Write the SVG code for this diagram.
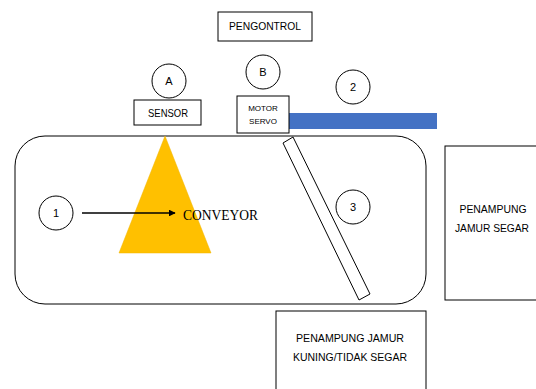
<svg xmlns="http://www.w3.org/2000/svg" width="536" height="389" viewBox="0 0 536 389">
<style>
.box{fill:#fff;stroke:#000;stroke-width:1}
.c{fill:#fff;stroke:#000;stroke-width:1}
.t{font-family:"Liberation Sans","Open Sans",sans-serif;font-size:11px;fill:#000;text-anchor:middle}
.s{font-family:"Liberation Sans","Open Sans",sans-serif;font-size:8px;fill:#000;text-anchor:middle}
.n{font-family:"Liberation Sans","Open Sans",sans-serif;font-size:11px;fill:#000;text-anchor:middle}
</style>
<defs>
<marker id="ah" viewBox="0 0 10 10" refX="9" refY="5" markerWidth="4.5" markerHeight="4.5" orient="auto" markerUnits="strokeWidth"><path d="M0,0 L10,5 L0,10 z" fill="#000"/></marker>
</defs>
<rect width="536" height="389" fill="#fff"/>
<g id="conveyor">
<rect x="15" y="136" width="411" height="168" rx="30" ry="30" fill="#fff" stroke="#000" stroke-width="1"/>
</g>
<g id="sensor-beam">
<polygon points="165,136 119,253 211,253" fill="#FFC000" stroke="#F0B400" stroke-width="0.5"/>
</g>
<g id="pengontrol"><rect class="box" x="218" y="12" width="94" height="29"/><text class="t" x="265" y="30" textLength="72" lengthAdjust="spacingAndGlyphs">PENGONTROL</text></g>
<g id="circle-A"><circle class="c" cx="169" cy="81" r="17"/><text class="n" x="169" y="85">A</text></g>
<g id="circle-B"><circle class="c" cx="263" cy="72" r="17"/><text class="n" x="263" y="76">B</text></g>
<g id="circle-2"><circle class="c" cx="353" cy="87" r="17"/><text class="n" x="353" y="91">2</text></g>
<g id="sensor"><rect class="box" x="134" y="100" width="67" height="25"/><text class="t" x="168" y="117" textLength="40" lengthAdjust="spacingAndGlyphs">SENSOR</text></g>
<g id="servo-arm"><rect x="289" y="113" width="148" height="16" fill="#4472C4"/></g>
<g id="motor-servo"><rect class="box" x="237" y="96" width="52" height="37"/><text class="s" x="263" y="111">MOTOR</text><text class="s" x="263" y="124">SERVO</text></g>
<g id="gate"><polygon points="283,143 293,137 370,294 359,300" fill="#fff" stroke="#000" stroke-width="1"/></g>
<g id="circle-1"><circle class="c" cx="56" cy="213" r="17"/><text class="n" x="56" y="217">1</text></g>
<g id="circle-3"><circle class="c" cx="353" cy="207" r="17"/><text class="n" x="353" y="211">3</text></g>
<g id="label-conveyor"><text x="183" y="220" font-family="'Liberation Serif','Times New Roman',serif" font-size="15" fill="#000" textLength="75" lengthAdjust="spacingAndGlyphs">CONVEYOR</text></g>
<g id="penampung-segar"><rect class="box" x="445" y="146" width="100" height="154"/><text class="t" x="493" y="213" textLength="67" lengthAdjust="spacingAndGlyphs">PENAMPUNG</text><text class="t" x="492" y="232" textLength="74" lengthAdjust="spacingAndGlyphs">JAMUR SEGAR</text></g>
<g id="penampung-kuning"><rect class="box" x="276" y="311" width="150" height="90"/><text class="t" x="350" y="342" textLength="108" lengthAdjust="spacingAndGlyphs">PENAMPUNG JAMUR</text><text class="t" x="350" y="361" textLength="114" lengthAdjust="spacingAndGlyphs">KUNING/TIDAK SEGAR</text></g>
<g id="connectors"><line x1="82" y1="213" x2="175" y2="213" stroke="#000" stroke-width="1.5" marker-end="url(#ah)"/></g>
</svg>
